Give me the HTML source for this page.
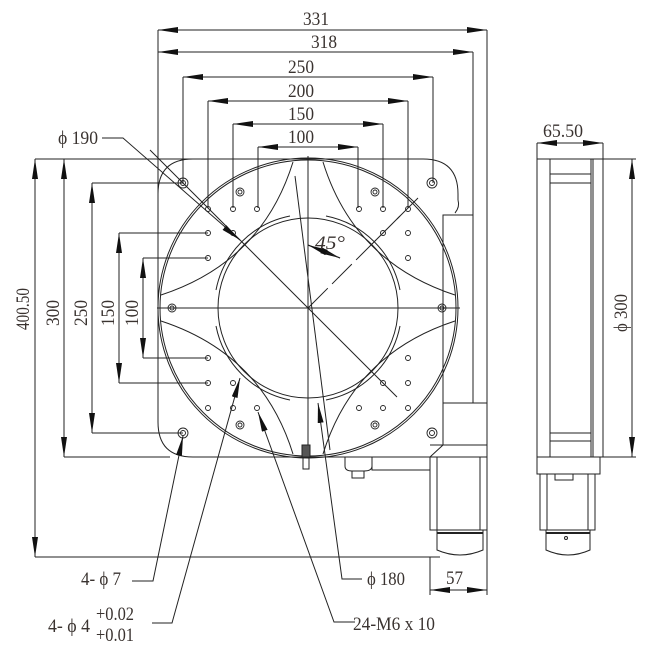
<!DOCTYPE html>
<html><head><meta charset="utf-8"><style>
html,body{margin:0;padding:0;background:#fff;}
svg{display:block;}
text{font-family:"Liberation Serif","DejaVu Serif",serif;fill:#3a3330;font-size:19px;}
</style></head><body>
<svg width="651" height="656" viewBox="0 0 651 656" xmlns="http://www.w3.org/2000/svg">
<defs>
<marker id="a" viewBox="0 0 20 6" refX="20" refY="3" markerWidth="20" markerHeight="6" markerUnits="userSpaceOnUse" orient="auto-start-reverse"><path d="M0,0 L20,3 L0,6 z" fill="#111"/></marker>
</defs>
<g stroke="#222" stroke-width="1" fill="none">
<line x1="158" y1="30" x2="158" y2="210"/>
<line x1="487" y1="30" x2="487" y2="403"/>
<line x1="473" y1="52" x2="473" y2="215"/>
<line x1="158" y1="30" x2="487" y2="30" marker-start="url(#a)" marker-end="url(#a)"/>
<line x1="158" y1="52" x2="473" y2="52" marker-start="url(#a)" marker-end="url(#a)"/>
<line x1="183" y1="77" x2="433" y2="77" marker-start="url(#a)" marker-end="url(#a)"/>
<line x1="208" y1="101" x2="408" y2="101" marker-start="url(#a)" marker-end="url(#a)"/>
<line x1="233" y1="124" x2="383" y2="124" marker-start="url(#a)" marker-end="url(#a)"/>
<line x1="258" y1="147" x2="358" y2="147" marker-start="url(#a)" marker-end="url(#a)"/>
<line x1="183" y1="77" x2="183" y2="183"/><line x1="433" y1="77" x2="433" y2="183"/>
<line x1="208" y1="101" x2="208" y2="208"/><line x1="408" y1="101" x2="408" y2="208"/>
<line x1="233" y1="124" x2="233" y2="208"/><line x1="383" y1="124" x2="383" y2="208"/>
<line x1="258" y1="147" x2="258" y2="208"/><line x1="358" y1="147" x2="358" y2="208"/>
<line x1="35" y1="159" x2="300" y2="159"/>
<line x1="35" y1="557" x2="440" y2="557"/>
<line x1="64" y1="457" x2="170" y2="457"/>
<line x1="92" y1="183" x2="183" y2="183"/><line x1="92" y1="433" x2="183" y2="433"/>
<line x1="119" y1="233" x2="208" y2="233"/><line x1="119" y1="383" x2="208" y2="383"/>
<line x1="143" y1="258" x2="208" y2="258"/><line x1="143" y1="358" x2="208" y2="358"/>
<line x1="35" y1="159" x2="35" y2="557" marker-start="url(#a)" marker-end="url(#a)"/>
<line x1="64" y1="159" x2="64" y2="457" marker-start="url(#a)" marker-end="url(#a)"/>
<line x1="92" y1="183" x2="92" y2="433" marker-start="url(#a)" marker-end="url(#a)"/>
<line x1="119" y1="233" x2="119" y2="383" marker-start="url(#a)" marker-end="url(#a)"/>
<line x1="143" y1="258" x2="143" y2="358" marker-start="url(#a)" marker-end="url(#a)"/>
<path d="M193,159 L423,159 Q458,159 458,194 L458,200 M158,194 Q158,159 193,159 M158,194 L158,422 Q158,457 193,457 L430,457"/>
<path d="M458,200 Q460,207 455,213"/>
<circle cx="308" cy="308" r="150"/>
<circle cx="308" cy="308" r="148"/>
<circle cx="308" cy="308" r="90"/>
<path d="M216,290 A94,94 0 0 1 290,216"/><path d="M326,216 A94,94 0 0 1 400,290"/>
<path d="M400,326 A94,94 0 0 1 326,400"/><path d="M216,326 A94,94 0 0 0 290,400"/>
<path d="M161,295 Q262,262 293,162"/><path d="M323,162 Q354,262 455,295"/>
<path d="M161,321 Q262,354 293,454"/><path d="M323,454 Q354,354 455,321"/>
<line x1="157" y1="308" x2="460" y2="308"/>
<line x1="308" y1="156" x2="308" y2="457"/>
<line x1="150" y1="150" x2="397" y2="397"/>
<line x1="308" y1="308" x2="380" y2="236" stroke-dasharray="28,6"/>
<line x1="375" y1="241" x2="400" y2="216"/>
<line x1="397" y1="219" x2="418" y2="198"/>
<line x1="295" y1="176" x2="330" y2="450"/>
<line x1="308" y1="245" x2="340" y2="258" marker-end="url(#a)"/>
<line x1="340" y1="258" x2="308" y2="245" marker-end="url(#a)"/>
<g stroke-width="0.9">
<circle cx="208" cy="209" r="2.5"/><circle cx="233" cy="209" r="2.5"/><circle cx="257" cy="209" r="2.5"/>
<circle cx="208" cy="233" r="2.5"/><circle cx="208" cy="258" r="2.5"/>
<circle cx="408" cy="209" r="2.5"/><circle cx="383" cy="209" r="2.5"/><circle cx="359" cy="209" r="2.5"/>
<circle cx="408" cy="233" r="2.5"/><circle cx="408" cy="258" r="2.5"/>
<circle cx="208" cy="358" r="2.5"/><circle cx="208" cy="383" r="2.5"/>
<circle cx="208" cy="408" r="2.5"/><circle cx="233" cy="408" r="2.5"/><circle cx="257" cy="408" r="2.5"/>
<circle cx="408" cy="358" r="2.5"/><circle cx="408" cy="383" r="2.5"/>
<circle cx="408" cy="408" r="2.5"/><circle cx="383" cy="408" r="2.5"/><circle cx="359" cy="408" r="2.5"/>
<circle cx="233" cy="233" r="2.5"/><circle cx="383" cy="233" r="2.5"/><circle cx="233" cy="383" r="2.5"/><circle cx="383" cy="383" r="2.5"/>
<circle cx="240" cy="192" r="4"/><circle cx="240" cy="192" r="2"/>
<circle cx="375" cy="192" r="4"/><circle cx="375" cy="192" r="2"/>
<circle cx="240" cy="425" r="4"/><circle cx="240" cy="425" r="2"/>
<circle cx="375" cy="425" r="4"/><circle cx="375" cy="425" r="2"/>
<circle cx="172" cy="308" r="4"/><circle cx="172" cy="308" r="2"/>
<circle cx="442" cy="308" r="4"/><circle cx="442" cy="308" r="2"/>
<circle cx="183" cy="183" r="5"/><circle cx="183" cy="183" r="2.5"/>
<circle cx="432" cy="183" r="5"/><circle cx="432" cy="183" r="2.5"/>
<circle cx="183" cy="433" r="5"/><circle cx="183" cy="433" r="2.5"/>
<circle cx="432" cy="433" r="5"/><circle cx="432" cy="433" r="2.5"/>
</g>
<rect x="443" y="215" width="30" height="188"/>
<path d="M443,403 L487,403 L487,457 M443,403 L443,445 L430,457"/>
<path d="M430,445 L487,445"/>
<rect x="430" y="457" width="57" height="73"/>
<line x1="437" y1="457" x2="437" y2="530"/><line x1="480" y1="457" x2="480" y2="530"/>
<path d="M437,530 L483,530 L483,550 Q460,560 437,550 Z"/>
<line x1="437" y1="533" x2="483" y2="533" stroke-width="2"/>
<path d="M345,457 L345,466 Q345,471 352,471 L364,471 Q372,471 372,466 L372,457"/>
<rect x="352" y="471" width="12" height="7"/>
<rect x="372" y="457" width="58" height="13"/>
<rect x="302" y="445" width="8" height="12" fill="#555"/>
<rect x="303" y="457" width="6" height="12"/>
<rect x="537" y="159" width="66" height="298"/>
<line x1="550" y1="159" x2="550" y2="457"/>
<line x1="591" y1="159" x2="591" y2="457"/><line x1="593" y1="159" x2="593" y2="457"/>
<line x1="550" y1="174" x2="591" y2="174"/><line x1="550" y1="183" x2="591" y2="183"/>
<line x1="550" y1="433" x2="591" y2="433"/><line x1="550" y1="441" x2="591" y2="441"/>
<line x1="537" y1="143" x2="537" y2="159"/><line x1="603" y1="143" x2="603" y2="159"/>
<line x1="537" y1="143" x2="603" y2="143" marker-start="url(#a)" marker-end="url(#a)"/>
<line x1="603" y1="159" x2="636" y2="159"/><line x1="603" y1="457" x2="636" y2="457"/>
<line x1="632" y1="159" x2="632" y2="457" marker-start="url(#a)" marker-end="url(#a)"/>
<rect x="537" y="457" width="63" height="17"/>
<rect x="540" y="474" width="55" height="56"/>
<line x1="547" y1="474" x2="547" y2="530"/><line x1="588" y1="474" x2="588" y2="530"/>
<rect x="555" y="474" width="18" height="6"/>
<path d="M546,530 L590,530 L590,550 Q568,560 546,550 Z"/>
<line x1="546" y1="533" x2="590" y2="533" stroke-width="2"/>
<circle cx="566" cy="538" r="1.5"/>
<line x1="430" y1="557" x2="430" y2="595"/><line x1="487" y1="530" x2="487" y2="595"/>
<line x1="430" y1="590" x2="487" y2="590" marker-start="url(#a)" marker-end="url(#a)"/>
<polyline points="102,138 123,138 240,240"/>
<line x1="225" y1="228" x2="240" y2="240" marker-end="url(#a)"/>
<polyline points="132,581 153,581 183,436" marker-end="url(#a)"/>
<polyline points="152,623 172,623 240,378" marker-end="url(#a)"/>
<polyline points="355,622 334,622 258,412" marker-end="url(#a)"/>
<polyline points="362,579 342,579 318,403" marker-end="url(#a)"/>
</g>
<g>
<text x="303" y="25" textLength="26" lengthAdjust="spacingAndGlyphs">331</text>
<text x="311" y="48" textLength="26" lengthAdjust="spacingAndGlyphs">318</text>
<text x="288" y="73" textLength="26" lengthAdjust="spacingAndGlyphs">250</text>
<text x="288" y="97" textLength="26" lengthAdjust="spacingAndGlyphs">200</text>
<text x="288" y="120" textLength="26" lengthAdjust="spacingAndGlyphs">150</text>
<text x="288" y="143" textLength="26" lengthAdjust="spacingAndGlyphs">100</text>
<text x="58" y="144" textLength="40" lengthAdjust="spacingAndGlyphs">ϕ 190</text>
<text x="543" y="137" textLength="40" lengthAdjust="spacingAndGlyphs">65.50</text>
<text transform="translate(29,330) rotate(-90)" textLength="42" lengthAdjust="spacingAndGlyphs">400.50</text>
<text transform="translate(59,326) rotate(-90)" textLength="26" lengthAdjust="spacingAndGlyphs">300</text>
<text transform="translate(87,326) rotate(-90)" textLength="26" lengthAdjust="spacingAndGlyphs">250</text>
<text transform="translate(114,326) rotate(-90)" textLength="26" lengthAdjust="spacingAndGlyphs">150</text>
<text transform="translate(138,326) rotate(-90)" textLength="26" lengthAdjust="spacingAndGlyphs">100</text>
<text transform="translate(627,332) rotate(-90)" textLength="38" lengthAdjust="spacingAndGlyphs">ϕ 300</text>
<text x="315" y="249" font-style="italic" fill="#6a5540" textLength="30" lengthAdjust="spacingAndGlyphs">45°</text>
<text x="81" y="585" textLength="40" lengthAdjust="spacingAndGlyphs">4- ϕ 7</text>
<text x="48" y="632" textLength="42" lengthAdjust="spacingAndGlyphs">4- ϕ 4</text>
<text x="96" y="620" font-size="17" textLength="38" lengthAdjust="spacingAndGlyphs">+0.02</text>
<text x="96" y="641" font-size="17" textLength="38" lengthAdjust="spacingAndGlyphs">+0.01</text>
<text x="367" y="585" textLength="38" lengthAdjust="spacingAndGlyphs">ϕ 180</text>
<text x="353" y="630" textLength="82" lengthAdjust="spacingAndGlyphs">24-M6 x 10</text>
<text x="446" y="584" textLength="17" lengthAdjust="spacingAndGlyphs">57</text>
</g>
</svg>
</body></html>
